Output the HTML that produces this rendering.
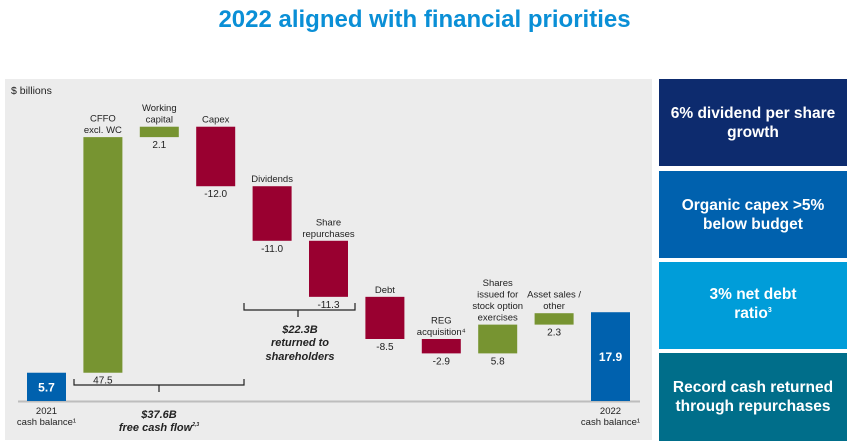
<!DOCTYPE html>
<html><head><meta charset="utf-8"><style>
body{margin:0;width:849px;height:445px;background:#fff;font-family:"Liberation Sans",Arial,sans-serif;overflow:hidden;position:relative}
#title{position:absolute;left:0;top:6px;width:849px;text-align:center;color:#0a8fd6;font-weight:bold;font-size:24px}
.box{position:absolute;left:659px;width:188px;color:#fff;font-weight:bold;font-size:15.5px;line-height:19px;display:flex;align-items:center;justify-content:center;text-align:center}
.sup{font-size:7px;position:relative;top:-6px}
</style></head><body>
<div id="title">2022 aligned with financial priorities</div>
<svg id="chart" width="849" height="445" style="position:absolute;left:0;top:0">
<rect x="5" y="79" width="647" height="361" fill="#ececec"/>
<text x="11" y="94" font-size="10.5" fill="#222">$ billions</text>
<line x1="18" y1="401.5" x2="640" y2="401.5" stroke="#bdbdbd" stroke-width="2"/>
<g id="marks"></g>
<path d="M74 379 V385 H244 V379 M159 385 V392" fill="none" stroke="#222" stroke-width="1.2"/>
<text x="159" y="418" font-size="11" font-weight="bold" font-style="italic" text-anchor="middle" fill="#222">$37.6B</text>
<text x="159" y="431" font-size="11" font-weight="bold" font-style="italic" text-anchor="middle" fill="#222">free cash flow<tspan font-size="5" dy="-5">2,3</tspan></text>
<path d="M244 303 V310 H355 V303 M298 310 V317" fill="none" stroke="#222" stroke-width="1.2"/>
<text x="300" y="333" font-size="11" font-weight="bold" font-style="italic" text-anchor="middle" fill="#222">$22.3B</text>
<text x="300" y="346" font-size="11" font-weight="bold" font-style="italic" text-anchor="middle" fill="#222">returned to</text>
<text x="300" y="360" font-size="11" font-weight="bold" font-style="italic" text-anchor="middle" fill="#222">shareholders</text>
</svg>
<div class="box" style="top:79px;height:87px;background:#0d2b6e">6% dividend per share<br>growth</div>
<div class="box" style="top:171px;height:87px;background:#0061ae">Organic capex &gt;5%<br>below budget</div>
<div class="box" style="top:262px;height:87px;background:#009dd9"><div>3% net debt<br>ratio<span class="sup">3</span></div></div>
<div class="box" style="top:353px;height:88px;background:#006e8a">Record cash returned<br>through repurchases</div>
<script>
const categories=[["2021","cash balance¹"],["CFFO","excl. WC"],["Working","capital"],["Capex"],["Dividends"],["Share","repurchases"],["Debt"],["REG","acquisition⁴"],["Shares","issued for","stock option","exercises"],["Asset sales /","other"],["2022","cash balance¹"]];
const values=[5.7,47.5,2.1,-12.0,-11.0,-11.3,-8.5,-2.9,5.8,2.3,17.9];
const isTotal=[true,false,false,false,false,false,false,false,false,false,true];
const labels=["5.7","47.5","2.1","-12.0","-11.0","-11.3","-8.5","-2.9","5.8","2.3","17.9"];
const base=401,scale=4.96,x0=27,step=56.4,bw=39;
const yS=v=>base-v*scale;
const xS=i=>x0+i*step;
const g=document.getElementById('marks');
const NS='http://www.w3.org/2000/svg';
function mk(t,a){const e=document.createElementNS(NS,t);for(const k in a)e.setAttribute(k,a[k]);g.appendChild(e);return e;}
let cum=0;
values.forEach((v,i)=>{
  let a,b;
  if(isTotal[i]){a=0;b=v;cum=v;}else{a=cum;b=cum+v;cum=b;}
  const top=yS(Math.max(a,b)),bot=yS(Math.min(a,b));
  const col=isTotal[i]?'#0061ae':(v>=0?'#779431':'#990030');
  const r=mk('rect',{x:xS(i),y:top,width:bw,height:bot-top,fill:col});
  
  
  const cx=xS(i)+bw/2;
  const lv=mk('text',{x:cx,'font-size':isTotal[i]?12:10,'text-anchor':'middle',fill:isTotal[i]?'#fff':'#222','font-weight':isTotal[i]?'bold':'normal',y:isTotal[i]?top+(bot-top)/2+4.5:bot+11});
  lv.textContent=labels[i];
  
  
  const lines=categories[i];
  lines.forEach((s,j)=>{
    let y;
    if(isTotal[i]) y=base+13+j*11;
    else y=top-4-(lines.length-1-j)*11.5;
    const t=mk('text',{x:cx,y:y,'font-size':9.5,'text-anchor':'middle',fill:'#222'});
    t.textContent=s;
    
    
  });
});
</script>
</body></html>
